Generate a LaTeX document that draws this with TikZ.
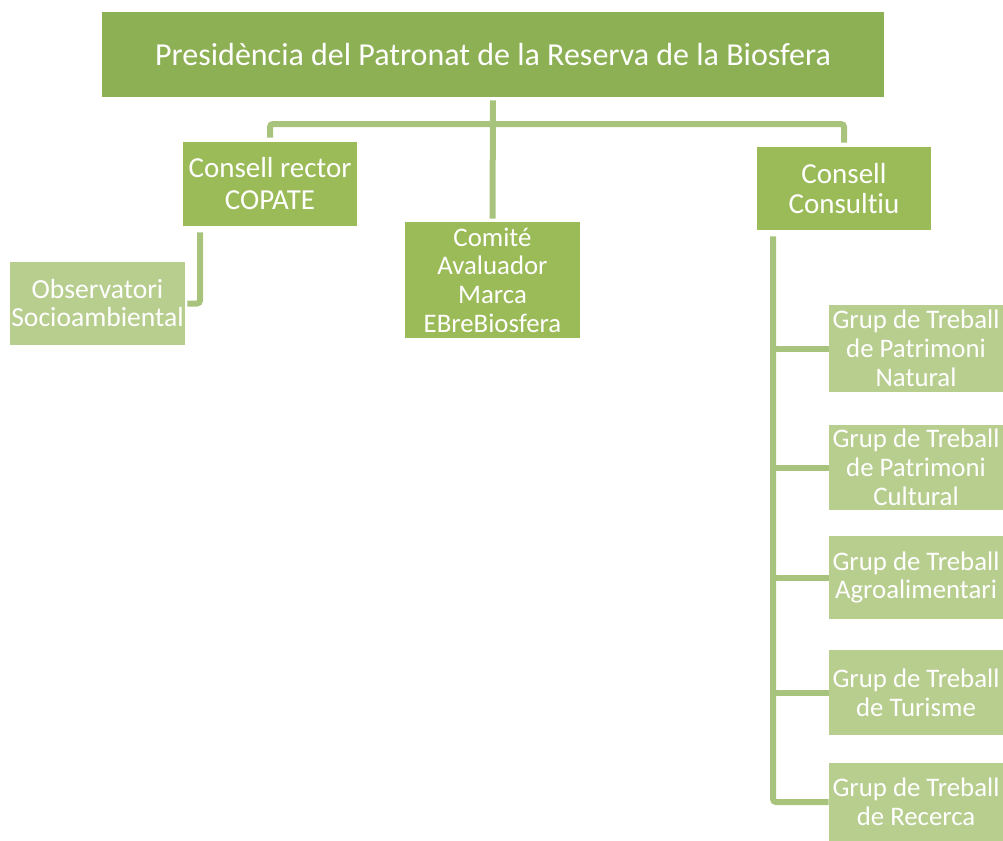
\documentclass[tikz,border=0pt]{standalone}
\usepackage{fontspec}
\setmainfont{Carlito}[Ligatures=NoCommon]
\definecolor{topgreen}{HTML}{8DB054}
\definecolor{midgreen}{HTML}{9BBB59}
\definecolor{lightgreen}{HTML}{B8CE8F}
\definecolor{linkgreen}{HTML}{A8C47C}
\tikzset{
  box/.style={fill=midgreen, text=white, align=center, inner sep=0pt,
    font=\fontsize{14.5}{15}\selectfont},
  subbox/.style={box, fill=lightgreen, font=\fontsize{13.4}{14.4}\selectfont},
  link/.style={draw=linkgreen, line width=3pt, rounded corners=1.5pt}
}
\begin{document}
\begin{tikzpicture}[x=0.5pt,y=-0.5pt]
  \useasboundingbox (0,0) rectangle (1003,841);
  \node[box, fill=topgreen, minimum width=391pt, minimum height=42.5pt,
    font=\fontsize{16}{18}\selectfont] (pres) at (493,54.5)
    {Presidència del Patronat de la Reserva de la Biosfera};
  \node[box, minimum width=87pt, minimum height=42pt,
    font=\fontsize{14.5}{16}\selectfont] (rector) at (270,184)
    {Consell rector\\COPATE};
  \node[box, minimum width=87.5pt, minimum height=58pt,
    font=\fontsize{13.4}{14.3}\selectfont] (comite) at (492.5,280)
    {Comité\\Avaluador\\Marca\\EBreBiosfera};
  \node[box, minimum width=87pt, minimum height=41.5pt] (consultiu) at (844,188.5)
    {Consell\\Consultiu};
  \node[subbox, minimum width=87.5pt, minimum height=41.5pt,
    font=\fontsize{13.8}{14}\selectfont] (obs) at (97.5,303.5)
    {Observatori\\Socioambiental};
  \node[subbox, minimum width=87pt, minimum height=43.5pt] (g1) at (916,348.5)
    {Grup de Treball\\de Patrimoni\\Natural};
  \node[subbox, minimum width=87pt, minimum height=42.5pt] (g2) at (916,467.5)
    {Grup de Treball\\de Patrimoni\\Cultural};
  \node[subbox, minimum width=87pt, minimum height=41.5pt] (g3) at (916,577.5)
    {Grup de Treball\\Agroalimentari};
  \node[subbox, minimum width=87pt, minimum height=42.5pt] (g4) at (916,692.5)
    {Grup de Treball\\de Turisme};
  \node[subbox, minimum width=87pt, minimum height=39pt] (g5) at (916,802)
    {Grup de Treball\\de Recerca};

  \coordinate (bus) at (493,124);
  \coordinate (obsbar) at (200,0);
  \coordinate (gbar) at (773,0);

  \draw[link] ([yshift=-1.5pt]pres.south) -- ([yshift=1.5pt]comite.north);
  \draw[link] ([yshift=2pt]rector.north) -- (rector.north |- bus)
    -- (consultiu.north |- bus) -- ([yshift=2pt]consultiu.north);
  \draw[link] ([yshift=-3pt]obsbar |- rector.south) |- ([xshift=1pt]obs.east);
  \draw[link] ([yshift=-3pt]gbar |- consultiu.south) |- (g5.west);
  \foreach \g in {g1,g2,g3,g4}
    \draw[link] (gbar |- \g.west) -- (\g.west);
\end{tikzpicture}
\end{document}
